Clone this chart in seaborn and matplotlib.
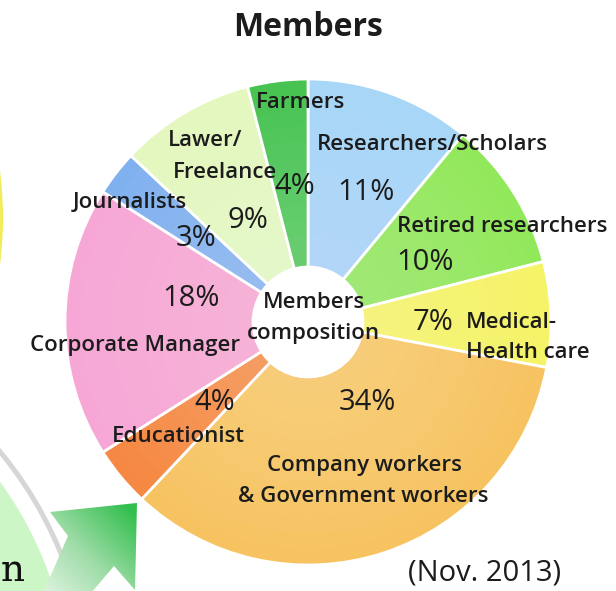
import numpy as np
import matplotlib
matplotlib.use("Agg")
import matplotlib.pyplot as plt
from matplotlib.patches import Circle, Polygon
import seaborn as sns

# Membership composition (Nov. 2013), clockwise from 12 o'clock
categories = [
    "Researchers/Scholars", "Retired researchers", "Medical-Health care",
    "Company workers & Government workers", "Educationist", "Corporate Manager",
    "Journalists", "Lawer/Freelance", "Farmers",
]
shares = [11, 10, 7, 34, 4, 18, 3, 9, 4]
slice_colors = [
    "#a6d6f7", "#8fe857", "#f5f366", "#f7c25e", "#f5863f",
    "#f6a6d6", "#7eb0ef", "#e4f7bd", "#45c24f",
]

W, H = 616, 591

sns.set_theme(style="white")
plt.rcParams["font.family"] = ["Open Sans", "DejaVu Sans"]

fig = plt.figure(figsize=(W / 100, H / 100), dpi=100)
ax = fig.add_axes([0, 0, 1, 1])
palette = sns.color_palette(slice_colors)


def Y(y):
    """Top-down pixel row to data y."""
    return H - y


# --- slide decorations behind the chart -------------------------------
ax.add_patch(Circle((-367, Y(218)), 370, facecolor="#f1ec5a", edgecolor="none", zorder=0))
ax.add_patch(Circle((-300, Y(700)), 392, facecolor="#b5b5b5", edgecolor="none", alpha=0.55, zorder=0))
ax.add_patch(Circle((-300, Y(700)), 387, facecolor="white", edgecolor="none", zorder=0))
ax.add_patch(Circle((-300, Y(700)), 371, facecolor="#cdf6c6", edgecolor="none", zorder=0))

arrow_pts = [(50, 512), (137, 503), (135, 590), (114, 566), (85, 600), (40, 600), (68, 536)]
arrow = Polygon([(x, Y(y)) for x, y in arrow_pts], closed=True, facecolor="none",
                edgecolor="none", zorder=1)
ax.add_patch(arrow)
gx, gy = np.meshgrid(np.linspace(0, 1, 200), np.linspace(0, 1, 200))
grad = np.clip(0.55 * gx + 0.55 * gy, 0, 1)
arrow_cmap = sns.blend_palette(["#e6f6e6", "#9fdca8", "#33bf4e"], as_cmap=True)
img = ax.imshow(grad, cmap=arrow_cmap, extent=(40, 140, Y(600), Y(500)),
                origin="lower", zorder=1, interpolation="bilinear")
img.set_clip_path(arrow)
ax.text(1, Y(571), "n", family="DejaVu Serif", fontsize=27, color="#111111",
        ha="left", va="center", zorder=2)

# --- donut ---------------------------------------------------------------
cx, cy, R, hole = 308, 322, 243, 55
wedges, _ = ax.pie(
    shares, colors=palette, startangle=90, counterclock=False,
    radius=R, center=(cx, Y(cy)),
    wedgeprops=dict(width=R - hole, edgecolor="white", linewidth=2.0),
)
for w in wedges:
    w.set_zorder(3)

# soft highlight toward the hole
for k in range(12):
    rr = hole + (R - hole) * (k + 1) / 12
    ax.add_patch(Circle((cx, Y(cy)), rr, facecolor="white", edgecolor="none",
                        alpha=0.018, zorder=4))
ax.add_patch(Circle((cx, Y(cy)), hole, facecolor="white", edgecolor="none", zorder=5))

txt = dict(color="#1c1c1c", ha="center", va="center", zorder=6)
cat = dict(txt, fontsize=16, fontweight="semibold")
pct = dict(txt, fontsize=21)

# category labels
ax.text(300, Y(102), "Farmers", **cat)
ax.text(432, Y(145), "Researchers/Scholars", **cat)
ax.text(205, Y(140), "Lawer/", **cat)
ax.text(225, Y(172), "Freelance", **cat)
ax.text(130, Y(202), "Journalists", **cat)
ax.text(502, Y(227), "Retired researchers", **cat)
ax.text(466, Y(322), "Medical-", **dict(cat, ha="left"))
ax.text(466, Y(353), "Health care", **dict(cat, ha="left"))
ax.text(135, Y(345), "Corporate Manager", **cat)
ax.text(178, Y(437), "Educationist", **cat)
ax.text(364, Y(465), "Company workers", **cat)
ax.text(363, Y(497), "& Government workers", **cat)
ax.text(314, Y(303), "Members", **cat)
ax.text(313, Y(333), "composition", **cat)

# percentage labels, written from the same shares that size the slices
pct_pos = {
    "Researchers/Scholars": (366, 193),
    "Retired researchers": (425, 262),
    "Medical-Health care": (433, 322),
    "Company workers & Government workers": (367, 403),
    "Educationist": (215, 403),
    "Corporate Manager": (191, 298),
    "Journalists": (196, 238),
    "Lawer/Freelance": (248, 220),
    "Farmers": (295, 187),
}
for name, v in zip(categories, shares):
    x, y = pct_pos[name]
    ax.text(x, Y(y), f"{v}%", **pct)

ax.text(308, Y(28), "Members", fontsize=23, fontweight="bold", **txt)
ax.text(485, Y(573), "(Nov. 2013)", fontsize=21, **txt)

ax.set_xlim(0, W)
ax.set_ylim(0, H)
ax.set_aspect("equal")
ax.axis("off")
fig.savefig("out.png", dpi=100, facecolor="white")
